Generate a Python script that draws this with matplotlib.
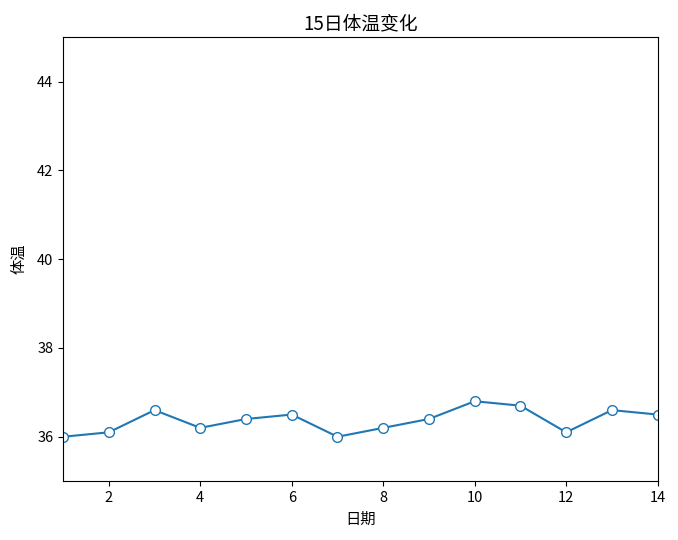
import matplotlib
matplotlib.use("Agg")
import matplotlib.pyplot as plt

plt.rcParams['font.family'] = ['Noto Sans CJK SC', 'DejaVu Sans']
plt.rcParams['axes.unicode_minus'] = False

days = list(range(1, 15))
temps = [36.0, 36.1, 36.6, 36.2, 36.4, 36.5, 36.0, 36.2, 36.4, 36.8, 36.7, 36.1, 36.6, 36.5]

fig, ax = plt.subplots(figsize=(6.78, 5.4), dpi=100)
fig.subplots_adjust(left=0.093, right=0.970, top=0.931, bottom=0.109)

ax.plot(days, temps, '-o', color='#1f77b4', markerfacecolor='white', markersize=7)
ax.set_xlim(1, 14)
ax.set_ylim(35, 45)
ax.tick_params(labelsize=10.5)
ax.set_title("15日体温变化", fontsize=13.5)
ax.set_xlabel("日期", fontsize=11)
ax.set_ylabel("体温", fontsize=11, labelpad=7)

fig.savefig("out.png", dpi=100)
